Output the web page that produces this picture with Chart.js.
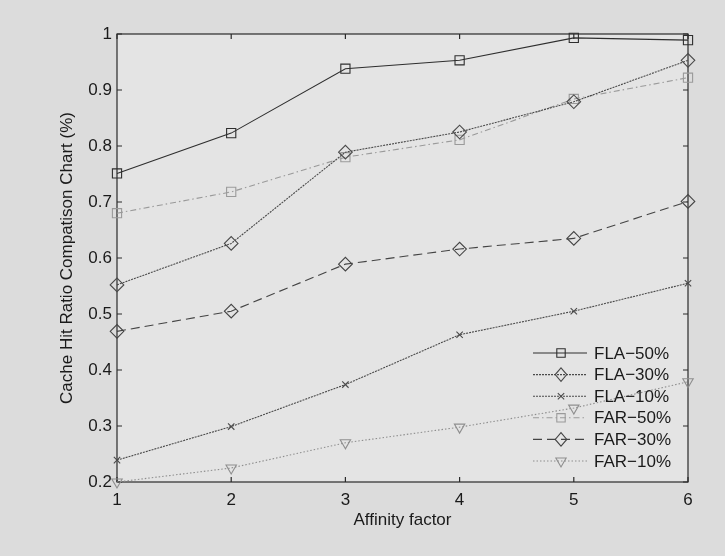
<!DOCTYPE html>
<html><head><meta charset="utf-8">
<script src="https://cdn.jsdelivr.net/npm/chart.js@4"></script>
<style>html,body{margin:0;padding:0;background:#dedede}canvas{display:block}</style>
</head><body>
<div style="width:725px;height:556px"><canvas id="c" width="725" height="556"></canvas></div>
<script>
const categories = ["1","2","3","4","5","6"];
const fla50 = [0.751, 0.823, 0.938, 0.953, 0.993, 0.989];
const fla30 = [0.552, 0.626, 0.789, 0.825, 0.879, 0.953];
const fla10 = [0.239, 0.299, 0.374, 0.463, 0.505, 0.555];
const far50 = [0.680, 0.718, 0.780, 0.811, 0.884, 0.922];
const far30 = [0.469, 0.505, 0.589, 0.616, 0.635, 0.701];
const far10 = [0.200, 0.225, 0.270, 0.298, 0.332, 0.379];
const seriesNames = ["FLA\u221250%","FLA\u221230%","FLA\u221210%","FAR\u221250%","FAR\u221230%","FAR\u221210%"];
const yMin = 0.2, yMax = 1.0, yStep = 0.1;
const xTitle = "Affinity factor";
const yTitle = "Cache Hit Ratio Compatison Chart (%)";

const FONT = "'Liberation Sans', Arial, Helvetica, sans-serif";
Chart.defaults.font.family = FONT;
Chart.defaults.font.size = 17;
Chart.defaults.color = '#1e1e1e';

function ds(label, data, color, dash, style, radius, rot) {
  return {
    label, data, borderColor: color, borderWidth: 1.1, borderDash: dash,
    pointStyle: style, pointRadius: radius, pointHoverRadius: radius,
    pointBorderColor: color, pointBackgroundColor: 'rgba(0,0,0,0)', pointBorderWidth: 1.1,
    pointRotation: rot || 0, tension: 0, fill: false, clip: false
  };
}

const datasets = [
  ds(seriesNames[0], fla50, '#2e2e2e', [], 'rect', 6.5),
  ds(seriesNames[1], fla30, '#4a4a4a', [2,1], 'rectRot', 6.8),
  ds(seriesNames[2], fla10, '#4a4a4a', [2,1], 'crossRot', 4.5),
  ds(seriesNames[3], far50, '#9a9a9a', [6,3,1.5,3], 'rect', 6.5),
  ds(seriesNames[4], far30, '#444444', [9,5], 'rectRot', 6.8),
  ds(seriesNames[5], far10, '#8e8e8e', [1.5,2], 'triangle', 6, 180)
];

function drawMarker(ctx, style, x, y, r, rot) {
  ctx.beginPath();
  if (style === 'rect') {
    const s = 4.2;
    ctx.rect(x - s, y - s, 2 * s, 2 * s);
  } else if (style === 'rectRot') {
    ctx.moveTo(x, y - r); ctx.lineTo(x + r * 0.85, y); ctx.lineTo(x, y + r); ctx.lineTo(x - r * 0.85, y); ctx.closePath();
  } else if (style === 'crossRot') {
    const s = r * Math.SQRT1_2;
    ctx.moveTo(x - s, y - s); ctx.lineTo(x + s, y + s);
    ctx.moveTo(x + s, y - s); ctx.lineTo(x - s, y + s);
  } else if (style === 'triangle') {
    const d = rot === 180 ? 1 : -1;
    ctx.moveTo(x - r * 0.86, y - d * r * 0.5); ctx.lineTo(x + r * 0.86, y - d * r * 0.5); ctx.lineTo(x, y + d * r); ctx.closePath();
  }
  ctx.stroke();
}

const framePlugin = {
  id: 'frame',
  beforeDraw(chart) {
    const {ctx, chartArea: a} = chart;
    ctx.save();
    ctx.fillStyle = '#dcdcdc';
    ctx.fillRect(0, 0, chart.width, chart.height);
    ctx.fillStyle = '#e4e4e4';
    ctx.fillRect(a.left, a.top, a.right - a.left, a.bottom - a.top);
    ctx.restore();
  },
  beforeDatasetsDraw(chart) {
    const {ctx, chartArea: a, scales: {x, y}} = chart;
    ctx.save();
    ctx.strokeStyle = '#2a2a2a';
    ctx.lineWidth = 1.2;
    ctx.strokeRect(a.left, a.top, a.right - a.left, a.bottom - a.top);
    ctx.beginPath();
    const tl = 5;
    x.ticks.forEach((t, i) => {
      const px = x.getPixelForTick(i);
      ctx.moveTo(px, a.bottom); ctx.lineTo(px, a.bottom - tl);
      ctx.moveTo(px, a.top); ctx.lineTo(px, a.top + tl);
    });
    y.ticks.forEach((t, i) => {
      const py = y.getPixelForTick(i);
      ctx.moveTo(a.left, py); ctx.lineTo(a.left + tl, py);
      ctx.moveTo(a.right, py); ctx.lineTo(a.right - tl, py);
    });
    ctx.stroke();
    ctx.restore();
  },
  afterDraw(chart) {
    const {ctx} = chart;
    ctx.save();
    const x0 = 533, x1 = 587, xm = 561, xt = 594, y0 = 353, dy = 21.6;
    chart.data.datasets.forEach((d, i) => {
      const yy = y0 + i * dy;
      ctx.strokeStyle = d.borderColor;
      ctx.lineWidth = 1.1;
      ctx.setLineDash(d.borderDash);
      ctx.beginPath(); ctx.moveTo(x0, yy); ctx.lineTo(x1, yy); ctx.stroke();
      ctx.setLineDash([]);
      drawMarker(ctx, d.pointStyle, xm, yy, d.pointRadius, d.pointRotation);
      ctx.fillStyle = '#1a1a1a';
      ctx.font = '17px ' + FONT;
      ctx.textBaseline = 'middle';
      ctx.textAlign = 'left';
      ctx.fillText(d.label, xt, yy + 1);
    });
    ctx.restore();
  }
};

new Chart(document.getElementById('c'), {
  type: 'line',
  data: { labels: categories, datasets },
  options: {
    responsive: false, animation: false, devicePixelRatio: 1,
    layout: { padding: { left: 0, right: 37, top: 34, bottom: 0 } },
    plugins: { legend: { display: false }, tooltip: { enabled: false } },
    scales: {
      x: {
        type: 'category', offset: false,
        grid: { display: false, drawTicks: false }, border: { display: false },
        ticks: { padding: 8, color: '#1a1a1a', maxRotation: 0, font: { size: 17 } },
        title: { display: true, text: xTitle, color: '#1a1a1a', font: { size: 17 }, padding: { top: 0, bottom: 25 } },
        afterFit(s) { s.height = 74; }
      },
      y: {
        min: yMin, max: yMax,
        grid: { display: false, drawTicks: false }, border: { display: false },
        ticks: { stepSize: yStep, padding: 5, color: '#1a1a1a', font: { size: 17 },
          callback: v => String(Math.round(v * 10) / 10) },
        title: { display: true, text: yTitle, color: '#1a1a1a', font: { size: 17 }, padding: { top: 57, bottom: 0 } },
        afterFit(s) { s.width = 117; }
      }
    }
  },
  plugins: [framePlugin]
});
</script>
</body></html>
